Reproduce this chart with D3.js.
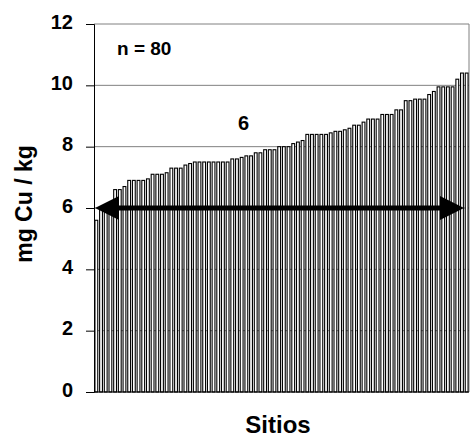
<!DOCTYPE html>
<html>
<head>
<meta charset="utf-8">
<script src="https://cdn.jsdelivr.net/npm/d3@7"></script>
<style>
  body { margin: 0; background: #fff; }
  text { font-family: Arial, "Liberation Sans", sans-serif; font-weight: bold; }
</style>
</head>
<body>
<div id="chart"></div>
<script>
// Cu per site, sorted ascending (n = 80).
const cuValues = [
  5.6, 5.95, 6.0, 6.05, 6.6, 6.6, 6.7, 6.9, 6.9, 6.9,
  6.9, 6.95, 7.1, 7.1, 7.1, 7.15, 7.3, 7.3, 7.3, 7.4,
  7.45, 7.5, 7.5, 7.5, 7.5, 7.5, 7.5, 7.5, 7.5, 7.6,
  7.6, 7.65, 7.7, 7.7, 7.8, 7.8, 7.9, 7.9, 7.9, 8.0,
  8.0, 8.0, 8.1, 8.15, 8.2, 8.4, 8.4, 8.4, 8.4, 8.4,
  8.45, 8.5, 8.5, 8.55, 8.6, 8.7, 8.7, 8.8, 8.9, 8.9,
  8.9, 9.05, 9.05, 9.05, 9.2, 9.2, 9.5, 9.5, 9.55, 9.55,
  9.55, 9.7, 9.8, 9.95, 9.95, 9.95, 9.95, 10.2, 10.4, 10.4
];
const siteIds = cuValues.map((d, i) => i + 1);
const yTicks = [0, 2, 4, 6, 8, 10, 12];
const refLevel = 6;

(function() {
  const width = 471;
  const height = 442;
  const margin = { top: 24, right: 2, bottom: 50, left: 94 };

  const svg = d3.select('#chart')
    .append('svg')
    .attr('width', width)
    .attr('height', height);

  const x = d3.scaleBand()
    .domain(siteIds)
    .range([margin.left, width - margin.right])
    .paddingInner(0.4)
    .paddingOuter(0.2);

  const y = d3.scaleLinear()
    .domain([0, 12])
    .range([height - margin.bottom, margin.top]);

  // Gridlines.
  svg.append('g')
    .selectAll('line')
    .data(yTicks.filter(t => t > 0 && t < 12))
    .enter()
    .append('line')
    .attr('x1', margin.left)
    .attr('x2', width - margin.right)
    .attr('y1', d => y(d))
    .attr('y2', d => y(d))
    .style('stroke', '#808080')
    .style('stroke-width', 1);

  // Plot frame (top and right).
  svg.append('path')
    .attr('d', `M${margin.left},${y(12)}H${width - margin.right}V${y(0)}`)
    .style('fill', 'none')
    .style('stroke', '#808080')
    .style('stroke-width', 1);

  // Bars.
  svg.append('g')
    .selectAll('rect')
    .data(cuValues)
    .enter()
    .append('rect')
    .attr('x', (d, i) => x(siteIds[i]))
    .attr('y', d => y(d))
    .attr('width', x.bandwidth())
    .attr('height', d => y(0) - y(d))
    .style('fill', '#fff')
    .style('stroke', '#000')
    .style('stroke-width', 1.1);

  // Y axis.
  const yAxis = svg.append('g')
    .attr('transform', `translate(${margin.left},0)`)
    .call(d3.axisLeft(y).tickValues(yTicks).tickSize(8).tickPadding(13));
  yAxis.select('.domain').style('stroke', '#000');
  yAxis.selectAll('.tick line').style('stroke', '#000');
  yAxis.selectAll('.tick text')
    .attr('dy', '0.21em')
    .style('font-size', '20px')
    .style('font-family', 'Arial, "Liberation Sans", sans-serif')
    .style('font-weight', 'bold')
    .attr('fill', '#000');

  // X baseline.
  svg.append('line')
    .attr('x1', margin.left)
    .attr('x2', width - margin.right)
    .attr('y1', y(0))
    .attr('y2', y(0))
    .style('stroke', '#000');

  // Double-headed arrow at the reference level.
  const yRef = y(refLevel);
  const xL = margin.left + 1;
  const xR = width - 7;
  svg.append('line')
    .attr('x1', xL + 20)
    .attr('x2', xR - 20)
    .attr('y1', yRef)
    .attr('y2', yRef)
    .style('stroke', '#000')
    .style('stroke-width', 5);
  svg.append('path')
    .attr('d', `M${xL},${yRef}L${xL + 24},${yRef - 12}L${xL + 24},${yRef + 12}Z`)
    .style('fill', '#000');
  svg.append('path')
    .attr('d', `M${xR},${yRef}L${xR - 24},${yRef - 12}L${xR - 24},${yRef + 12}Z`)
    .style('fill', '#000');

  // Annotations.
  svg.append('text')
    .attr('x', 117)
    .attr('y', 55)
    .style('font-size', '19px')
    .text('n = 80');

  svg.append('text')
    .attr('x', 243.5)
    .attr('y', 130)
    .style('text-anchor', 'middle')
    .style('font-size', '20px')
    .text(refLevel);

  // Axis titles.
  svg.append('text')
    .attr('transform', `translate(32, ${y(6) - 4}) rotate(-90)`)
    .style('text-anchor', 'middle')
    .style('font-size', '23px')
    .text('mg Cu / kg');

  svg.append('text')
    .attr('x', 278)
    .attr('y', 433)
    .style('text-anchor', 'middle')
    .style('font-size', '24px')
    .text('Sitios');
})();
</script>
</body>
</html>
